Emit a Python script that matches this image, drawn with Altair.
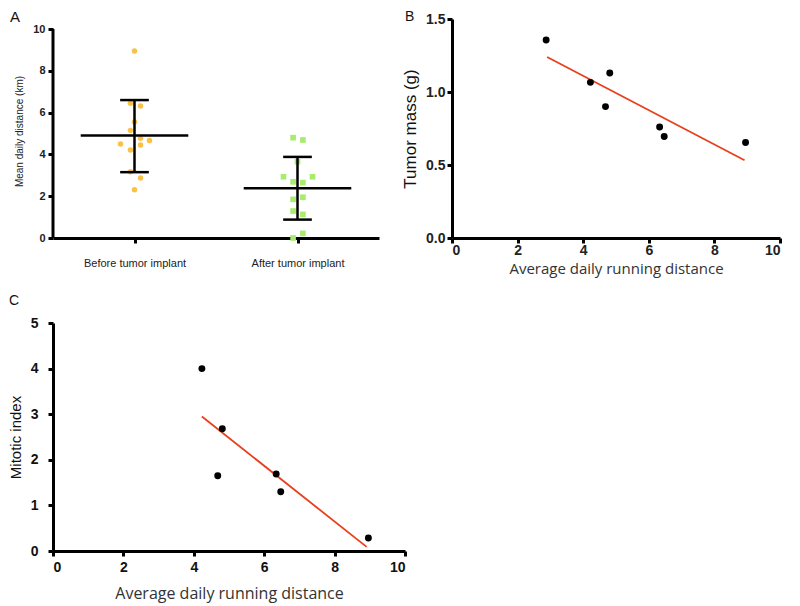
import altair as alt
import pandas as pd

# ---------------- Panel A data ----------------
groups = ["Before tumor implant", "After tumor implant"]
before_vals = [8.95, 6.45, 6.32, 5.55, 5.15, 4.77, 4.5, 4.45, 4.66, 4.21, 3.17, 2.87, 2.31]
before_jit = [0.0, -0.025, 0.037, 0.0, -0.025, 0.037, -0.086, 0.037, 0.092, -0.025, -0.025, 0.037, 0.0]
after_vals = [4.8, 4.69, 3.65, 2.93, 2.93, 2.69, 2.65, 1.85, 1.95, 1.29, 1.13, 0.22, 0.0]
after_jit = [-0.027, 0.033, 0.0, -0.086, 0.092, -0.027, 0.033, -0.027, 0.033, -0.027, 0.033, 0.033, -0.027]
group_mean = [4.9, 2.38]
group_upper = [6.6, 3.88]
group_lower = [3.15, 0.88]
a_ticks = [0, 2, 4, 6, 8, 10]

# ---------------- Panel B data ----------------
b_x = [2.87, 4.22, 4.81, 4.68, 6.33, 6.47, 8.95]
b_y = [1.356, 1.066, 1.13, 0.90, 0.76, 0.695, 0.654]
b_fit_x = [2.9, 8.92]
b_fit_y = [1.24, 0.533]

# ---------------- Panel C data ----------------
c_x = [4.23, 4.81, 4.68, 6.34, 6.47, 8.96]
c_y = [4.0, 2.68, 1.65, 1.69, 1.30, 0.285]
c_fit_x = [4.23, 8.91]
c_fit_y = [2.95, 0.09]

panel_letters = ["A", "B", "C"]

ORANGE = "#F9C247"
GREEN = "#A8EC6E"
RED = "#E8401C"


def letter(t, dx, dy, size):
    return alt.Chart(pd.DataFrame({"t": [t]})).mark_text(
        fontSize=size, font="Liberation Sans", color="#111", align="left", baseline="alphabetic"
    ).encode(text="t:N", x=alt.value(dx), y=alt.value(dy))


# ---------- Panel A ----------
dfa = pd.DataFrame({
    "g": [0] * len(before_vals) + [1] * len(after_vals),
    "jit": before_jit + after_jit,
    "v": before_vals + after_vals,
})
dfa["pos"] = dfa["g"] + dfa["jit"]
dfs = pd.DataFrame({"g": [0, 1], "mean": group_mean, "up": group_upper, "lo": group_lower})
dfs["m1"] = dfs["g"] - 0.33
dfs["m2"] = dfs["g"] + 0.33
dfs["c1"] = dfs["g"] - 0.088
dfs["c2"] = dfs["g"] + 0.088

A_TOP = a_ticks[-1] * 219 / 209  # plot area shares its top with panel B
label_expr = f"datum.value == 0 ? '{groups[0]}' : '{groups[1]}'"
XA_SCALE = alt.Scale(domain=[-0.5, 1.5], nice=False, zero=False)
XA_AXIS = alt.Axis(values=[0, 1], labelExpr=label_expr, title=None, grid=False,
                   domainWidth=3, domainColor="black", tickWidth=3, tickColor="black",
                   tickSize=5, labelFontSize=11, labelFont="Liberation Sans",
                   labelColor="#222", labelPadding=14)
YA_SCALE = alt.Scale(domain=[0, A_TOP], nice=False)
YA_AXIS = alt.Axis(values=a_ticks, title="Mean daily distance (km)", grid=False,
                   domain=False, tickWidth=3, tickColor="black",
                   tickSize=5, labelFontSize=11, labelFont="Liberation Sans", labelFontWeight="bold",
                   labelColor="#222", labelPadding=3, titleFontSize=10,
                   titleFont="Liberation Sans", titleFontWeight="normal",
                   titleColor="#222", titlePadding=8, titleY=112)


def xa(f):
    return alt.X(f, scale=XA_SCALE, axis=XA_AXIS)


def ya(f):
    return alt.Y(f, scale=YA_SCALE, axis=YA_AXIS)


base_a = alt.Chart(dfa)
pts_before = base_a.transform_filter("datum.g == 0").mark_circle(size=30, color=ORANGE, opacity=1).encode(
    x=xa("pos:Q"), y=ya("v:Q"))
pts_after = base_a.transform_filter("datum.g == 1").mark_square(size=32, color=GREEN, opacity=1).encode(
    x=xa("pos:Q"), y=ya("v:Q"))
sbase = alt.Chart(dfs)
mean_rule = sbase.mark_rule(color="black", strokeWidth=2.5).encode(x=xa("m1:Q"), x2="m2:Q", y=ya("mean:Q"))
vert_rule = sbase.mark_rule(color="black", strokeWidth=2.5).encode(x=xa("g:Q"), y=ya("lo:Q"), y2="up:Q")
cap_up = sbase.mark_rule(color="black", strokeWidth=2.5).encode(x=xa("c1:Q"), x2="c2:Q", y=ya("up:Q"))
cap_lo = sbase.mark_rule(color="black", strokeWidth=2.5).encode(x=xa("c1:Q"), x2="c2:Q", y=ya("lo:Q"))
yaxis_line = alt.Chart(pd.DataFrame({"x": [-0.5], "y0": [a_ticks[0]], "y1": [a_ticks[-1]]})).mark_rule(
    color="black", strokeWidth=3).encode(x=xa("x:Q"), y=ya("y0:Q"), y2="y1:Q")

chart_a = alt.layer(pts_before, pts_after, mean_rule, vert_rule, cap_up, cap_lo, yaxis_line,
                    letter(panel_letters[0], -43, 3, 15)).properties(width=326, height=219)

# ---------- Panel B ----------
dfb = pd.DataFrame({"x": b_x, "y": b_y})
dfbf = pd.DataFrame({"x": b_fit_x, "y": b_fit_y})
xb = alt.X("x:Q", scale=alt.Scale(domain=[0, 10], nice=False),
           axis=alt.Axis(values=[0, 2, 4, 6, 8, 10], title="Average daily running  distance", grid=False,
                         domainWidth=3, domainColor="black", tickWidth=3, tickColor="black",
                         tickSize=5, labelFontSize=14, labelFont="Liberation Sans", labelFontWeight="bold",
                         labelColor="#222", labelPadding=0, titleFontSize=15,
                         titleFont="Open Sans", titleFontWeight="normal", titleColor="#333",
                         titlePadding=4))
yb = alt.Y("y:Q", scale=alt.Scale(domain=[0, 1.5], nice=False),
           axis=alt.Axis(values=[0, 0.5, 1.0, 1.5], format=".1f", title="Tumor mass (g)", grid=False,
                         domainWidth=3, domainColor="black", tickWidth=3, tickColor="black",
                         tickSize=5, labelFontSize=14, labelFont="Liberation Sans", labelFontWeight="bold",
                         labelColor="#222", labelPadding=2, titleFontSize=17,
                         titleFont="Liberation Sans", titleFontWeight="normal",
                         titleColor="#111", titlePadding=6))
chart_b = alt.layer(
    alt.Chart(dfbf).mark_line(color=RED, strokeWidth=1.8).encode(x=xb, y=yb),
    alt.Chart(dfb).mark_circle(size=48, color="black", opacity=1).encode(x=xb, y=yb),
    letter(panel_letters[1], -47, 2, 14),
).properties(width=328, height=219)

# ---------- Panel C ----------
dfc = pd.DataFrame({"x": c_x, "y": c_y})
dfcf = pd.DataFrame({"x": c_fit_x, "y": c_fit_y})
xc = alt.X("x:Q", scale=alt.Scale(domain=[0, 10], nice=False),
           axis=alt.Axis(values=[0, 2, 4, 6, 8, 10], title="Average daily running  distance", grid=False,
                         domainWidth=3, domainColor="black", tickWidth=3, tickColor="black",
                         tickSize=5, labelFontSize=14, labelFont="Liberation Sans", labelFontWeight="bold",
                         labelColor="#111", labelPadding=4, titleFontSize=16,
                         titleFont="Open Sans", titleFontWeight="normal", titleColor="#333",
                         titlePadding=11))
yc = alt.Y("y:Q", scale=alt.Scale(domain=[0, 5], nice=False),
           axis=alt.Axis(values=[0, 1, 2, 3, 4, 5], title="Mitotic index", grid=False,
                         domainWidth=3, domainColor="black", tickWidth=3, tickColor="black",
                         tickSize=5, labelFontSize=14, labelFont="Liberation Sans", labelFontWeight="bold",
                         labelColor="#111", labelPadding=10, titleFontSize=15,
                         titleFont="Liberation Sans", titleFontWeight="normal",
                         titleColor="#111", titlePadding=7))
chart_c = alt.layer(
    alt.Chart(dfcf).mark_line(color=RED, strokeWidth=1.8).encode(x=xc, y=yc),
    alt.Chart(dfc).mark_circle(size=48, color="black", opacity=1).encode(x=xc, y=yc),
    letter(panel_letters[2], -44, -18, 14),
).properties(width=352, height=228)

row1 = alt.hconcat(chart_a, chart_b, spacing=22)
chart = alt.vconcat(row1, chart_c, spacing=18).properties(
    padding={"left": 0, "top": 2, "right": 0, "bottom": 6}).configure_view(stroke=None)

chart.save("out.html", embed_options={"renderer": "svg", "actions": False})
